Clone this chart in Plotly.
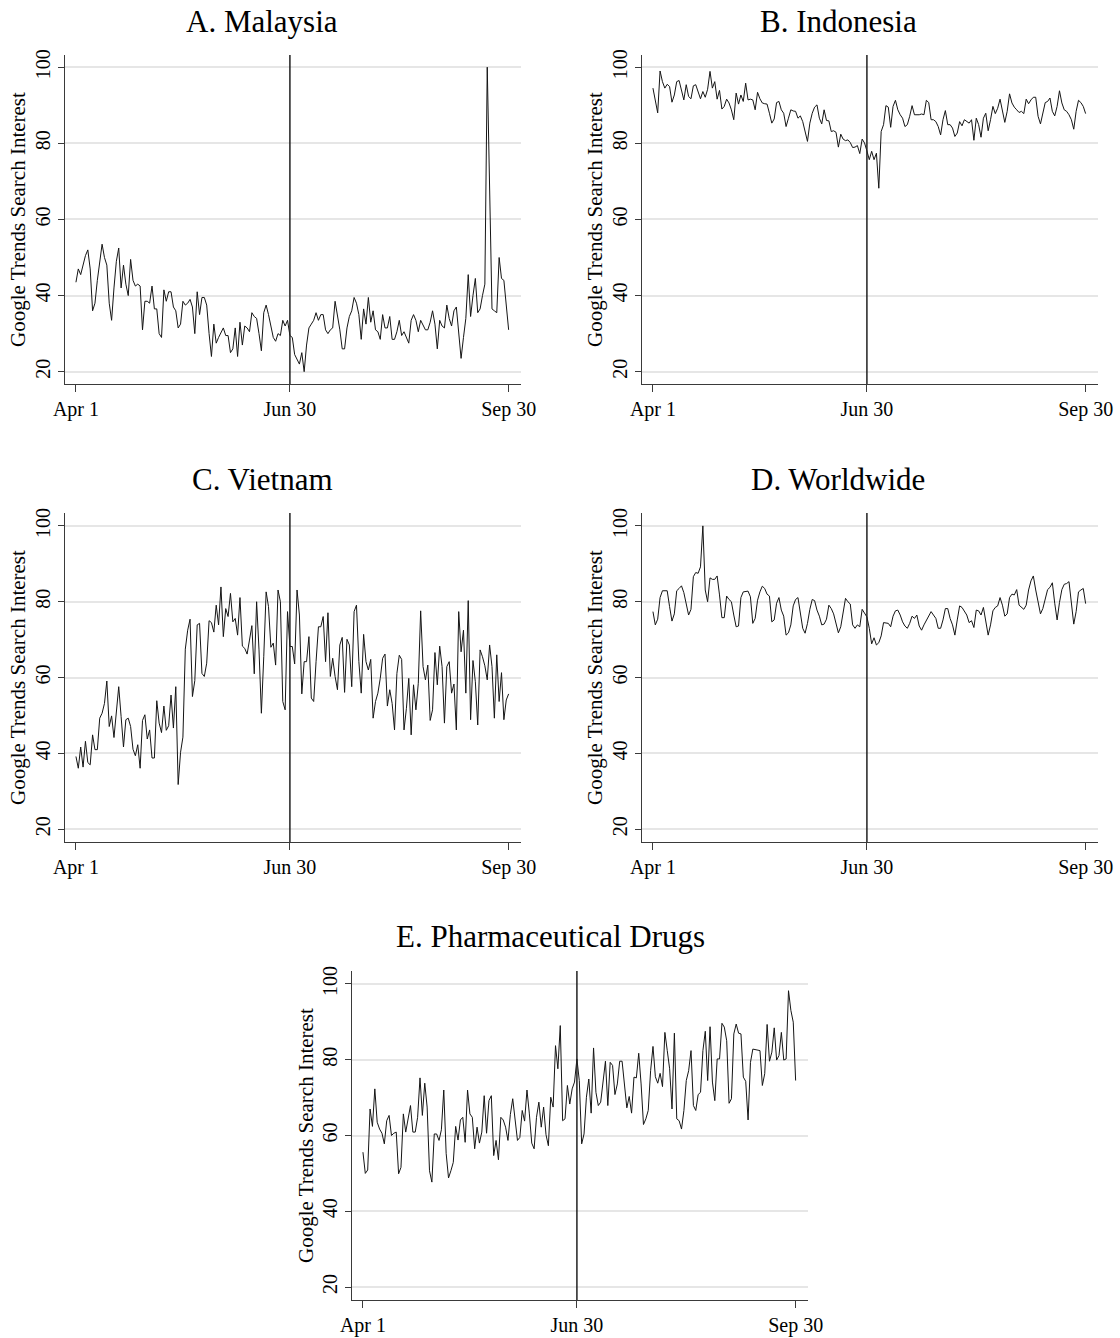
import plotly.graph_objects as go

# ---------------- data (daily Google Trends search interest, Apr 1 .. Sep 30) ----------------
tick_days = [0, 90, 182]
tick_labels = ["Apr 1", "Jun 30", "Sep 30"]
event_day = 90  # Jun 30
y_ticks = [20, 40, 60, 80, 100]

malaysia = [
    43.5, 47, 45.5, 48, 50.5, 52, 47, 36, 38, 44,
    49, 53.5, 50, 48, 38, 33.5, 42, 49, 52.5, 42,
    48, 43, 40, 49.5, 44, 42.5, 43, 42.5, 31, 38.5,
    38.5, 38, 42.5, 36.5, 36.5, 30, 29, 41.5, 38.5, 41,
    41, 37, 36, 31.5, 32.5, 38.5, 37.5, 38, 39, 37,
    30, 41, 35, 39.5, 39.5, 37.5, 30, 24, 32.5, 27.5,
    29, 30.5, 31.5, 29.5, 29.5, 25, 26, 31.5, 24, 33,
    27, 32, 31.5, 30.5, 35.5, 34.5, 34, 30, 25.5, 35.5,
    37.5, 35, 31.5, 29, 28, 30, 29.5, 33.5, 32, 33.5,
    29.5,
    29, 24.5, 23, 22, 25, 20, 27, 31.5, 32.5, 33.5,
    35.5, 33.5, 35, 35, 31, 30, 31, 31.5, 38.5, 35,
    31, 26, 26, 31.5, 34.5, 36, 39.5, 38, 35, 28.5,
    36.5, 32.5, 39.5, 33, 36, 31, 30.5, 28.5, 35, 31.5,
    31.5, 34.5, 28.5, 28.5, 30.5, 33.5, 29.5, 30.5, 29, 27.5,
    33.5, 35, 33.5, 30.5, 33.5, 32, 31, 31, 33, 36,
    32.5, 26, 33.5, 32, 31.5, 37.5, 34, 32, 36, 37,
    30, 23.5, 29, 34, 45.5, 34.5, 40, 44.5, 35.5, 36.5,
    40, 43, 100, 66, 36.5, 36, 35.5, 50, 44.5, 44,
    38, 31,
]

indonesia = [
    94.5, 91.2, 88, 99, 96.2, 94.5, 95.5, 94.9, 90.8, 92.7,
    96.2, 96.5, 94.2, 91.4, 95.4, 92.3, 91.7, 95.1, 95.4, 93.6,
    91.7, 93.6, 92.1, 94.2, 98.9, 94.5, 96.2, 91.6, 93.9, 89,
    89.7, 91.6, 90.6, 88.8, 86.2, 93.2, 90.3, 92.7, 91, 95.8,
    91.4, 91.6, 91.4, 88.8, 93.4, 91.7, 90.6, 90.4, 90.3, 87.9,
    85.3, 86.4, 90.7, 91, 88.8, 87.9, 84.4, 86.6, 88.8, 88.5,
    88.4, 86.6, 87.2, 85.7, 83.1, 80.5, 85.3, 87.9, 89.5, 90.1,
    86.6, 85.1, 88.8, 86, 85.9, 83.1, 83.3, 82.9, 79, 82.4,
    81.1, 80.7, 80.9, 80.2, 78.9, 79, 79.4, 77.3, 81.1, 80.1,
    78,
    75.7, 77.9, 75.7, 77.4, 68.2, 83.1, 84.9, 89.9, 89.5, 84.2,
    89.7, 91.3, 88.8, 87.5, 86.6, 84.4, 84.9, 87.1, 89.9, 87.5,
    87.5, 87.5, 87.7, 87.5, 91.3, 90.7, 86.2, 86.2, 85.7, 84.4,
    82.2, 86.2, 88.6, 84.9, 84.9, 84, 81.8, 82.7, 85.7, 84.6,
    86.2, 85.7, 85.3, 86.2, 80.8, 86.6, 84.9, 81.6, 86.6, 87.9,
    83.3, 86.2, 89.7, 87.8, 89.2, 91.6, 88.8, 85.5, 88.4, 93,
    90.6, 89.5, 88.8, 88.1, 88.4, 87.8, 91.6, 90.4, 91.4, 92.1,
    92.1, 87.1, 85.1, 88.4, 90.7, 91, 91.9, 88.4, 87.2, 89.7,
    93.8, 90.6, 88.8, 88.4, 87.5, 86.2, 83.7, 88.4, 91.3, 90.7,
    89.7, 87.8,
]

vietnam = [
    39.2, 36.1, 41.7, 36.4, 43.2, 37.6, 37, 44.9, 41, 41,
    49.3, 50.6, 53.2, 59.1, 47.1, 49.9, 44.2, 51.5, 57.6, 49.7,
    41.7, 48.9, 49.3, 47.1, 41.1, 39.4, 42.3, 36.1, 48.7, 50.2,
    43.8, 46.2, 38.8, 38.8, 53.9, 48, 45.5, 52.5, 46.1, 47.3,
    55.4, 46.7, 57.6, 31.8, 40.3, 44.3, 67.5, 72.5, 75.4, 55,
    59.2, 73.9, 74.3, 61.1, 60.3, 63.8, 75, 74.5, 72, 79.1,
    73.9, 83.9, 70.8, 78.2, 76.1, 82.2, 74.7, 75.6, 71.2, 81.1,
    68.3, 67.7, 66.2, 69.9, 73.7, 61, 80, 67.3, 50.6, 65.5,
    82.6, 78.7, 68, 69.1, 63.3, 83.1, 80, 53.7, 51.5, 77.4,
    68.2,
    68.2, 63.6, 83.1, 76.5, 55.7, 64.2, 64.2, 70.8, 54.6, 53.7,
    64.2, 73.4, 73.4, 76.1, 64.2, 77.1, 60.3, 65.1, 60.3, 56.8,
    68.6, 70.6, 56.1, 70.1, 68.6, 57.6, 77.4, 79.1, 64.2, 55.9,
    71.4, 64.2, 62, 64.8, 49.3, 53.7, 55.9, 59.8, 65.1, 66.2,
    52.5, 56.8, 53.2, 46.2, 61.1, 65.9, 64.8, 46.2, 51.9, 59.8,
    44.9, 58.1, 51.5, 58.5, 77.6, 62.9, 59.4, 63.3, 48.7, 51.5,
    66.6, 58.1, 68.3, 62.9, 48, 62.9, 64.2, 55.9, 58.3, 46.2,
    77.4, 66.8, 72.5, 55.9, 80.3, 48.9, 64.5, 58.9, 47.5, 67.3,
    65.5, 63.1, 59.4, 68.6, 62.9, 49.3, 66, 53.7, 61.3, 48.9,
    54.1, 55.7,
]

worldwide = [
    77.4, 73.9, 75.4, 81.1, 82.9, 82.9, 82.9, 78.7, 74.9, 76.8,
    82.9, 83.5, 84.2, 82.4, 79.6, 76.5, 78, 86.6, 87.7, 87.5,
    89.2, 100, 83.1, 80, 86.3, 85.9, 85.9, 86.8, 81.8, 75.8,
    75.8, 81.5, 80.6, 80, 76.5, 73.4, 73.6, 81.1, 82.6, 82.8,
    82.8, 81.3, 74.3, 75.6, 80.4, 82.6, 84.1, 83.5, 82, 81.5,
    74.7, 75.2, 79.6, 81.1, 77.8, 76.2, 71.2, 71.8, 73.9, 78.9,
    80.6, 81.1, 76.8, 73, 71.7, 74.3, 78, 80.6, 80.3, 77.8,
    76.2, 73.9, 74.1, 75.4, 79.1, 78.2, 76.8, 73.9, 71.8, 73.4,
    76.9, 80.9, 80, 79.4, 73.9, 73, 73.9, 73.4, 78, 77.1,
    76, 73, 68.9, 70.5, 68.6, 69.2, 71, 74.5, 74.3, 74.3,
    73.4, 76.2, 77.6, 77.8, 76.5, 74.7, 73.6, 73, 74.3, 76.2,
    75.6, 76.5, 73.6, 72.5, 73.9, 75.2, 76.2, 77.4, 76.5, 75.6,
    73, 73, 75.2, 78.2, 78.2, 75.6, 73.9, 71.2, 75.2, 78.9,
    78.5, 77.4, 76.5, 74.5, 75, 73.2, 77.8, 77.6, 76.5, 78.5,
    74.7, 71.2, 73.9, 77.6, 78.5, 78.9, 81.1, 79.1, 76.2, 76.8,
    81.1, 82, 81.8, 83.2, 79.1, 78.5, 78, 79.1, 83.1, 85.5,
    86.8, 83.1, 79.8, 76.8, 78.2, 81.1, 83.2, 83.8, 85, 79.6,
    75.2, 79.8, 83.2, 84.6, 84.8, 85.3, 80, 74.1, 77.4, 82.6,
    83.1, 83.5, 79.5,
]

pharma = [
    55.6, 50, 50.9, 67, 62.4, 72.3, 63.5, 61.7, 60.6, 57.8,
    63.9, 65.3, 60, 60.6, 60.9, 49.9, 51.6, 65.7, 60.9, 64.8,
    67.9, 60.9, 60.9, 64.8, 75.2, 65.3, 73.8, 67.5, 50.7, 47.7,
    60.4, 60.4, 58.7, 61.5, 72, 55.3, 48.8, 50.7, 52.9, 62.4,
    58.8, 64.1, 64.8, 58.2, 72, 65.7, 64.8, 56.5, 62.2, 58,
    60.9, 70.5, 60.6, 69.2, 70.5, 54.7, 58.7, 53.6, 64.8, 64.1,
    62.2, 58.7, 65.5, 69.7, 63.9, 58.7, 59.5, 66.6, 63.8, 72,
    65.7, 58, 56.5, 64.8, 68.8, 62.2, 67.5, 60.2, 57.3, 70.1,
    67.5, 83.7, 77.6, 89, 63.9, 64.4, 73.2, 68.3, 72.3, 74.1,
    80.2, 74.5, 57.8, 60.4, 70.1, 74.9, 65.9, 83.1, 71.4, 67.9,
    68.8, 74.1, 79.6, 67.9, 79.3, 78.5, 70.8, 73.6, 79.6, 79.6,
    72.3, 67.3, 70.3, 65.9, 75.4, 75.2, 81.7, 73.6, 62.9, 64.4,
    66.6, 77.1, 83.5, 75.5, 73.8, 76.4, 72.9, 87.2, 82.4, 77.6,
    67, 87, 64.4, 63.9, 61.7, 66.6, 74.5, 77.1, 82.4, 67.9,
    66.6, 70.8, 71.4, 82.4, 87.5, 74.5, 88.7, 74.1, 69.2, 80.2,
    80.2, 89.6, 88.6, 85, 68.5, 69.7, 86.8, 89.4, 87, 86.8,
    75.4, 74.3, 64.1, 79.3, 82.8, 82.6, 82.4, 82.4, 73.2, 76.3,
    89.3, 79.6, 82, 88.4, 79.9, 81.1, 87.2, 79.9, 80.2, 98.2,
    93, 89.9, 74.5,
]

titles = ["A. Malaysia", "B. Indonesia", "C. Vietnam", "D. Worldwide", "E. Pharmaceutical Drugs"]
series = [malaysia, indonesia, vietnam, worldwide, pharma]
y_title = "Google Trends Search Interest"

# ---------------- layout geometry (pixels) ----------------
W, H = 1120, 1338
FONT = "Liberation Serif, Times New Roman, serif"
AXC = "#3a3a3a"

panels = [
    dict(xpx=(65, 521), ypx=(55, 384), yr=(16.77, 103.2), tpos=(262, 22), ytpos=(18, 220)),
    dict(xpx=(642, 1098), ypx=(55, 384), yr=(16.77, 103.2), tpos=(838, 22), ytpos=(595, 220)),
    dict(xpx=(65, 521), ypx=(513, 842), yr=(16.65, 103.4), tpos=(262, 480), ytpos=(18, 678)),
    dict(xpx=(642, 1098), ypx=(513, 842), yr=(16.65, 103.4), tpos=(838, 480), ytpos=(595, 678)),
    dict(xpx=(352, 808), ypx=(971, 1300), yr=(16.6, 103.4), tpos=(550, 937), ytpos=(306, 1135)),
]


def px_x(v):
    return v / W


def px_y(v):
    return 1 - v / H


fig = go.Figure()
annotations = []
shapes = []

for i, (p, vals, ttl) in enumerate(zip(panels, series, titles), start=1):
    sfx = "" if i == 1 else str(i)
    days = list(range(len(vals)))
    fig.add_trace(go.Scatter(
        x=days, y=vals, mode="lines",
        line=dict(color="#151515", width=1),
        xaxis="x" + sfx, yaxis="y" + sfx, hoverinfo="x+y",
    ))
    fig.layout["xaxis" + sfx] = dict(
        domain=[px_x(p["xpx"][0]), px_x(p["xpx"][1])],
        range=[-4.6, 187.2], anchor="y" + sfx, automargin=False,
        tickmode="array", tickvals=tick_days, ticktext=tick_labels,
        ticks="outside", ticklen=7, tickwidth=1.3, tickcolor=AXC,
        showline=True, linecolor=AXC, linewidth=1.3,
        showgrid=False, zeroline=False,
        tickfont=dict(family=FONT, size=20, color="#000"),
    )
    fig.layout["yaxis" + sfx] = dict(
        domain=[px_y(p["ypx"][1]), px_y(p["ypx"][0])],
        range=list(p["yr"]), anchor="x" + sfx, automargin=False,
        tickmode="array", tickvals=y_ticks, tickangle=-90,
        ticks="outside", ticklen=6, tickwidth=1.3, tickcolor=AXC,
        showline=True, linecolor=AXC, linewidth=1.3,
        showgrid=True, gridcolor="#e6e6e6", gridwidth=1.6,
        zeroline=False,
        tickfont=dict(family=FONT, size=20, color="#000"),
    )
    shapes.append(dict(
        type="line", xref="x" + sfx, yref="y" + sfx + " domain",
        x0=event_day, x1=event_day, y0=0, y1=1,
        line=dict(color="#202020", width=1.5),
    ))
    annotations.append(dict(
        text=ttl, xref="paper", yref="paper",
        x=px_x(p["tpos"][0]), y=px_y(p["tpos"][1]),
        xanchor="center", yanchor="middle", showarrow=False,
        font=dict(family=FONT, size=31, color="#000"),
    ))
    annotations.append(dict(
        text=y_title, xref="paper", yref="paper",
        x=px_x(p["ytpos"][0]), y=px_y(p["ytpos"][1]),
        xanchor="center", yanchor="middle", showarrow=False, textangle=-90,
        font=dict(family=FONT, size=21, color="#000"),
    ))

fig.update_layout(
    template="none",
    width=W, height=H,
    margin=dict(l=0, r=0, t=0, b=0, pad=0),
    paper_bgcolor="white", plot_bgcolor="white",
    showlegend=False,
    font=dict(family=FONT, size=20, color="#000"),
    annotations=annotations, shapes=shapes,
)

fig.write_html("out.html")
